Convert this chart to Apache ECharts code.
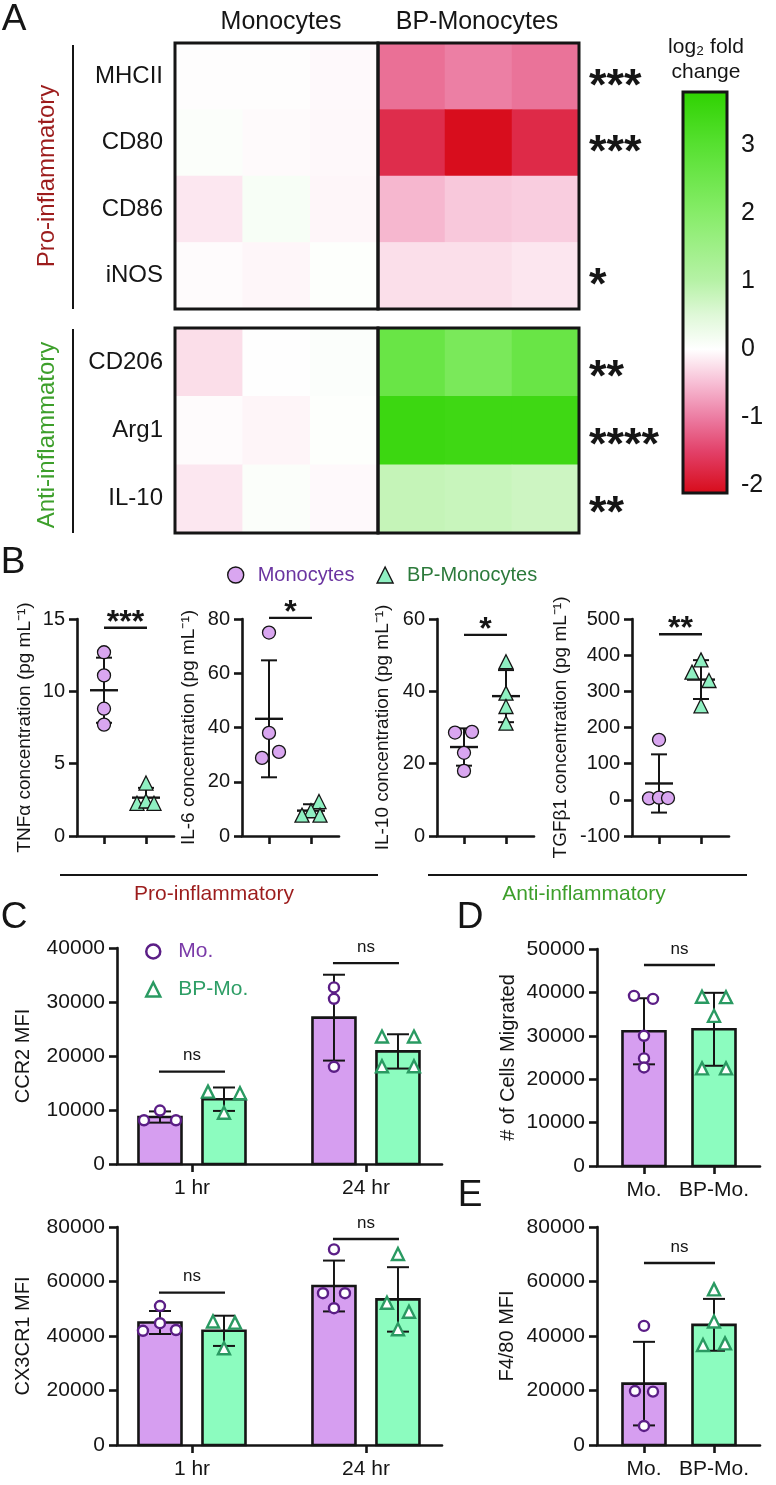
<!DOCTYPE html>
<html><head><meta charset="utf-8">
<script src="https://cdn.jsdelivr.net/npm/echarts@6/dist/echarts.min.js"></script>
<style>html,body{margin:0;padding:0;background:#fff}#c{width:776px;height:1485px}</style>
</head><body><div id="c"></div>
<script>
// ================= DATA =================
// Panel A: log2 fold change heatmap (3 replicates per group)
const replicates = ['1', '2', '3'];
const proMarkers = ['MHCII', 'CD80', 'CD86', 'iNOS'];
const antiMarkers = ['CD206', 'Arg1', 'IL-10'];
const proMono = [[0.00, 0.00, -0.04], [0.07, -0.03, -0.05], [-0.18, 0.12, -0.07], [-0.02, -0.07, 0.04]];
const proBP = [[-1.1, -0.98, -1.08], [-1.72, -2.08, -1.75], [-0.55, -0.42, -0.38], [-0.24, -0.24, -0.19]];
const antiMono = [[-0.25, 0.01, 0.06], [-0.02, -0.08, 0.04], [-0.18, 0.07, -0.04]];
const antiBP = [[2.6, 2.25, 2.6], [3.5, 3.45, 3.45], [0.82, 0.78, 0.72]];
const proSig = ['***', '***', '', '*'];
const antiSig = ['**', '****', '**'];
const cbTicks = [-2, -1, 0, 1, 2, 3];
const cbMin = -2.12, cbMax = 3.78;

// Panel B: cytokine concentrations (pg/mL)
const tnfMono = [12.7, 11.1, 8.8, 7.7];
const tnfBP = [3.66, 2.26, 2.42, 2.26];
const il6Mono = [75, 38, 31, 28.8];
const il6BP = [12.7, 9.3, 7.7, 7.7];
const il10Mono = [28.6, 28.8, 23, 18];
const il10BP = [48.2, 39.5, 35.8, 31.2];
const tgfMono = [166, 4, 6, 5];
const tgfBP = [387, 353, 330, 260];
const cytoSig = ['***', '*', '*', '**'];
const cytoSigLevel = [14.4, 80.4, 55.6, 458];

// Panel C: MFI at 1 hr / 24 hr
const timeCats = ['1 hr', '24 hr'];
const ccr2Mo = [[9900, 8100, 8100], [32700, 30600, 18000]];
const ccr2BP = [[13400, 13100, 9500], [23600, 23600, 18100, 18100]];
const ccr2Sig = ['ns', 'ns'];
const ccr2SigLevel = [17100, 37200];
const cx3Mo = [[51000, 44700, 41900, 42200], [71800, 55700, 55700, 50200]];
const cx3BP = [[45300, 44900, 35500], [70100, 52200, 48900, 42500]];
const cx3Sig = ['ns', 'ns'];
const cx3SigLevel = [55900, 75600];

// Panel D / E
const groupCats = ['Mo.', 'BP-Mo.'];
const migMo = [39200, 38500, 30000, 24800, 22700];
const migBP = [39000, 38900, 34600, 22500, 22500];
const migSig = ['ns'];
const migSigLevel = [46300];
const f480Mo = [43700, 19800, 19600, 7000];
const f480BP = [57100, 45300, 36700, 37300];
const f480Sig = ['ns'];
const f480SigLevel = [66800];

// ================= STYLE =================
const FONT = "'Liberation Sans', Arial, Helvetica, sans-serif";
const INK = '#151515';
const MONO_FILL = '#d9a6f0', BP_FILL = '#8ff0c2';
const MO_BAR = '#d69ef0', BP_BAR = '#8cfcbf';
const MO_LINE = '#5b1e86', BP_LINE = '#2a9a62';
const PRO_COL = '#9c1c1c', ANTI_COL = '#3d9f2b';
// point jitter (pixel offsets, style only)
const jit = {
  tnfMono: [0, 0, 0, 0], tnfBP: [0, -9, 0, 8],
  il6Mono: [0, 0, 10, -7], il6BP: [8, 0, -9, 9],
  il10Mono: [-9, 8, 0, 0], il10BP: [0, 0, 0, 0],
  tgfMono: [0, -10, 0, 9], tgfBP: [0, -9, 8, 0],
  ccr2Mo: [[0, -16, 16], [0, 0, 0]], ccr2BP: [[-16, 16, 0], [-16, 16, -16, 16]],
  cx3Mo: [[0, 0, -17, 16], [0, -11, 11, 0]], cx3BP: [[-11, 11, 0], [0, -11, 11, 0]],
  migMo: [-10, 9, 0, 0, 0], migBP: [-12, 12, 0, -12, 12],
  f480Mo: [0, -9, 9, 0], f480BP: [0, 0, -11, 11]
};
const colorAnchors = [[-2.12, '#d70a18'], [-1.5, '#e24068'], [-1, '#ec7ca2'], [-0.5, '#f7bdd4'], [0, '#ffffff'],
  [0.5, '#dff8d8'], [1, '#b6f2a6'], [2, '#86ec68'], [3, '#56e030'], [3.78, '#2ed200']];

// ================= HELPERS =================
function mean(a) { return a.reduce((s, v) => s + v, 0) / a.length; }
function sd(a) { const m = mean(a); return Math.sqrt(a.reduce((s, v) => s + (v - m) * (v - m), 0) / (a.length - 1)); }
function h2r(h) { return [1, 3, 5].map(i => parseInt(h.substr(i, 2), 16)); }
function r2h(c) { return '#' + c.map(v => Math.round(v).toString(16).padStart(2, '0')).join(''); }
function colorAt(v) {
  for (let i = 0; i < colorAnchors.length - 1; i++) {
    const [v0, c0] = colorAnchors[i], [v1, c1] = colorAnchors[i + 1];
    if (v <= v1 || i === colorAnchors.length - 2) {
      const t = Math.max(0, Math.min(1, (v - v0) / (v1 - v0)));
      const a = h2r(c0), b = h2r(c1);
      return r2h(a.map((x, k) => x + (b[k] - x) * t));
    }
  }
}
const vmColors = [];
for (let i = 0; i <= 80; i++) vmColors.push(colorAt(cbMin + (cbMax - cbMin) * i / 80));
const cbStops = colorAnchors.map(([v, c]) => ({ offset: (v - cbMin) / (cbMax - cbMin), color: c }));

const grid = [], xAxis = [], yAxis = [], series = [];
function addGrid(g) { grid.push(Object.assign({ outerBoundsMode: 'none', containLabel: false }, g)); return grid.length - 1; }
const lineSt = (w) => ({ color: INK, width: w });

// ---- Heatmap grids ----
const hmLayout = [
  { left: 175, top: 43, width: 203, height: 266 },
  { left: 378, top: 43, width: 201, height: 266 },
  { left: 175, top: 328, width: 203, height: 205 },
  { left: 378, top: 328, width: 201, height: 205 }];
const hmSets = [[proMono, proMarkers, null, 0], [proBP, proMarkers, proSig, 11], [antiMono, antiMarkers, null, 0], [antiBP, antiMarkers, antiSig, 16]];
const starSeries = [];
hmSets.forEach(([mat, rows, sig, shift], k) => {
  const gi = addGrid(Object.assign({ show: true, borderColor: INK, borderWidth: 3, z: 6 }, hmLayout[k]));
  xAxis.push({ gridIndex: gi, type: 'category', data: replicates, show: false });
  const ya = { gridIndex: gi, type: 'category', data: rows, inverse: true,
    axisLine: { show: false }, axisTick: { show: false }, splitLine: { show: false } };
  if (sig) {
    ya.axisLabel = { show: false };
    // significance stars, anchored to each row of the heatmap
    starSeries.push({ type: 'custom', xAxisIndex: gi, yAxisIndex: gi, z: 7, clip: false,
      data: rows.map((r, i) => [replicates.length - 1, i]),
      renderItem: function (params, api) {
        const p = api.coord([api.value(0), api.value(1)]);
        const bw = api.size([1, 0])[0];
        return { type: 'text', style: { text: sig[params.dataIndex], x: p[0] + bw / 2 + 10, y: p[1] + shift,
          align: 'left', verticalAlign: 'middle', fontSize: 45, fontWeight: 'bold', fontFamily: FONT, fill: INK } };
      } });
  } else {
    ya.axisLabel = { fontSize: 24, fontFamily: FONT, color: INK, margin: 12 };
  }
  yAxis.push(ya);
  series.push({ type: 'heatmap', xAxisIndex: gi, yAxisIndex: gi, z: 2,
    data: mat.flatMap((row, r) => row.map((v, c) => [c, r, v])), emphasis: { disabled: true } });
});

// ---- Colour bar ----
const cbGi = addGrid({ left: 683, top: 92, width: 44, height: 401, show: true, borderColor: INK, borderWidth: 3,
  backgroundColor: new echarts.graphic.LinearGradient(0, 1, 0, 0, cbStops) });
xAxis.push({ gridIndex: cbGi, type: 'category', data: [''], show: false });
yAxis.push({ gridIndex: cbGi, type: 'value', min: cbMin, max: cbMax, z: 8, axisLine: { show: false },
  axisTick: { inside: true, length: 9, lineStyle: lineSt(3), customValues: cbTicks }, axisLabel: { show: false }, splitLine: { show: false } });

// ---- Panel B (dot plots with mean ± SD) ----
function errRender(off, capHalf, meanHalf, lw) {
  return function (params, api) {
    const x = api.value(0), m = api.value(1), s = api.value(2);
    const t = api.coord([x, m + s]), b = api.coord([x, m - s]), c = api.coord([x, m]);
    const cx = c[0] + off;
    const ch = [
      { type: 'line', shape: { x1: cx, y1: t[1], x2: cx, y2: b[1] }, style: { stroke: INK, lineWidth: lw } },
      { type: 'line', shape: { x1: cx - capHalf, y1: t[1], x2: cx + capHalf, y2: t[1] }, style: { stroke: INK, lineWidth: lw } },
      { type: 'line', shape: { x1: cx - capHalf, y1: b[1], x2: cx + capHalf, y2: b[1] }, style: { stroke: INK, lineWidth: lw } }];
    if (meanHalf) ch.push({ type: 'line', shape: { x1: cx - meanHalf, y1: c[1], x2: cx + meanHalf, y2: c[1] }, style: { stroke: INK, lineWidth: lw + 0.4 } });
    return { type: 'group', children: ch };
  };
}
function sigRender(labels, offs, fnt, gap) {
  return function (params, api) {
    const i = params.dataIndex;
    const p1 = api.coord([api.value(0), api.value(2)]), p2 = api.coord([api.value(1), api.value(2)]);
    const x1 = p1[0] + offs[0], x2 = p2[0] + offs[1], y = p1[1];
    return { type: 'group', children: [
      { type: 'line', shape: { x1: x1, y1: y, x2: x2, y2: y }, style: { stroke: INK, lineWidth: 2.4 } },
      { type: 'text', style: { text: labels[i], x: (x1 + x2) / 2, y: y - gap, align: 'center', verticalAlign: 'middle',
        fontSize: fnt.size, fontWeight: fnt.weight, fontFamily: fnt.family, fill: INK } }] };
  };
}
function valueX(gi, min, max, labels) {
  return { gridIndex: gi, type: 'value', min: min, max: max,
    axisLine: { show: true, onZero: false, lineStyle: lineSt(2.6) },
    axisTick: { show: true, length: 8, lineStyle: lineSt(2.6), customValues: [1, 2].slice(0, labels ? labels.length : 2) },
    axisLabel: labels ? { show: true, customValues: labels.map((l, i) => i + 1), formatter: v => labels[Math.round(v) - 1],
      fontSize: 21, fontFamily: FONT, color: INK, margin: 14 } : { show: false },
    splitLine: { show: false } };
}
function valueY(gi, min, max, interval, name, nameGap, nameSize, labelSize) {
  return { gridIndex: gi, type: 'value', min: min, max: max, interval: interval,
    name: name, nameLocation: 'middle', nameRotate: 90, nameGap: nameGap,
    nameTextStyle: { fontSize: nameSize, fontFamily: FONT, color: INK },
    axisLine: { show: true, lineStyle: lineSt(2.6) },
    axisTick: { show: true, length: 8, lineStyle: lineSt(2.6) },
    axisLabel: { fontSize: labelSize, fontFamily: FONT, color: INK, margin: 12, formatter: v => String(v) },
    splitLine: { show: false } };
}
const bDefs = [
  ['TNFα', tnfMono, tnfBP, jit.tnfMono, jit.tnfBP, 77, 0, 15, 5, 43],
  ['IL-6', il6Mono, il6BP, jit.il6Mono, jit.il6BP, 242, 0, 80, 20, 44],
  ['IL-10', il10Mono, il10BP, jit.il10Mono, jit.il10BP, 437, 0, 60, 20, 45],
  ['TGFβ1', tgfMono, tgfBP, jit.tgfMono, jit.tgfBP, 632, -100, 500, 100, 62]];
bDefs.forEach(([nm, mo, bp, jm, jb, left, mn, mx, iv, gap], k) => {
  const gi = addGrid({ left: left, top: 619, width: 97, height: 217 });
  xAxis.push(valueX(gi, 0.357, 2.667, null));
  yAxis.push(valueY(gi, mn, mx, iv, nm + ' concentration (pg mL⁻¹)', gap, 19, 20));
  series.push({ type: 'custom', xAxisIndex: gi, yAxisIndex: gi, z: 3, clip: false,
    data: [[1, mean(mo), sd(mo)], [2, mean(bp), sd(bp)]], renderItem: errRender(0, 8, 14, 2) });
  series.push({ type: 'scatter', name: 'Monocytes', xAxisIndex: gi, yAxisIndex: gi, z: 4, symbol: 'circle', symbolSize: 13,
    itemStyle: { color: MONO_FILL, borderColor: INK, borderWidth: 1.3, opacity: 1 },
    data: mo.map((v, i) => ({ value: [1, v], symbolOffset: [jm[i], 0] })) });
  series.push({ type: 'scatter', name: 'BP-Monocytes', xAxisIndex: gi, yAxisIndex: gi, z: 4, symbol: 'triangle', symbolSize: 14,
    itemStyle: { color: BP_FILL, borderColor: INK, borderWidth: 1.3, opacity: 1 },
    data: bp.map((v, i) => ({ value: [2, v], symbolOffset: [jb[i], 0] })) });
  series.push({ type: 'custom', xAxisIndex: gi, yAxisIndex: gi, z: 3, clip: false,
    data: [[1, 2, cytoSigLevel[k]]], renderItem: sigRender([cytoSig[k]], [0, 1], { size: 32, weight: 'bold', family: FONT }, 5) });
});

// ---- Panels C, D, E (bars, mean ± SD, points) ----
function barRender(off, w, fill) {
  return function (params, api) {
    const x = api.value(0), v = api.value(1);
    const b = api.coord([x, 0]), t = api.coord([x, v]);
    return { type: 'rect', shape: { x: b[0] + off - w / 2, y: t[1], width: w, height: b[1] - t[1] },
      style: { fill: fill, stroke: INK, lineWidth: 2.6 } };
  };
}
function barGroup(gi, xs, sets, off, fill, name, symbol, jits, lineCol, symSize) {
  series.push({ type: 'custom', xAxisIndex: gi, yAxisIndex: gi, z: 2, clip: false,
    data: xs.map((x, i) => [x, mean(sets[i])]), renderItem: barRender(off, 43, fill) });
  series.push({ type: 'custom', xAxisIndex: gi, yAxisIndex: gi, z: 3, clip: false,
    data: xs.map((x, i) => [x, mean(sets[i]), sd(sets[i])]), renderItem: errRender(off, 11, 0, 2) });
  const pts = [];
  xs.forEach((x, i) => sets[i].forEach((v, j) => pts.push({ value: [x, v], symbolOffset: [off + jits[i][j], 0] })));
  series.push({ type: 'scatter', name: name, xAxisIndex: gi, yAxisIndex: gi, z: 4, symbol: symbol, symbolSize: symSize,
    itemStyle: { color: '#ffffff', borderColor: lineCol, borderWidth: 2.4, opacity: 1 }, data: pts });
}
// C top: CCR2
let gi = addGrid({ left: 117, top: 948, width: 325, height: 216 });
xAxis.push(valueX(gi, 0.569, 2.437, timeCats));
yAxis.push(valueY(gi, 0, 40000, 10000, 'CCR2 MFI', 84, 20, 21));
barGroup(gi, [1, 2], ccr2Mo, -32, MO_BAR, 'Mo.', 'circle', jit.ccr2Mo, MO_LINE, 10);
barGroup(gi, [1, 2], ccr2BP, 32, BP_BAR, 'BP-Mo.', 'triangle', jit.ccr2BP, BP_LINE, 12);
series.push({ type: 'custom', xAxisIndex: gi, yAxisIndex: gi, z: 3, clip: false, data: [[1, 1, ccr2SigLevel[0]], [2, 2, ccr2SigLevel[1]]],
  renderItem: sigRender(ccr2Sig, [-33, 33], { size: 17, weight: 'normal', family: FONT }, 16) });
// C bottom: CX3CR1
gi = addGrid({ left: 117, top: 1227, width: 325, height: 218 });
xAxis.push(valueX(gi, 0.569, 2.437, timeCats));
yAxis.push(valueY(gi, 0, 80000, 20000, 'CX3CR1 MFI', 84, 20, 21));
barGroup(gi, [1, 2], cx3Mo, -32, MO_BAR, 'Mo.', 'circle', jit.cx3Mo, MO_LINE, 10);
barGroup(gi, [1, 2], cx3BP, 32, BP_BAR, 'BP-Mo.', 'triangle', jit.cx3BP, BP_LINE, 12);
series.push({ type: 'custom', xAxisIndex: gi, yAxisIndex: gi, z: 3, clip: false, data: [[1, 1, cx3SigLevel[0]], [2, 2, cx3SigLevel[1]]],
  renderItem: sigRender(cx3Sig, [-33, 33], { size: 17, weight: 'normal', family: FONT }, 16) });
// D: migration
gi = addGrid({ left: 597, top: 949, width: 163, height: 217 });
xAxis.push(valueX(gi, 0.329, 2.657, groupCats));
yAxis.push(valueY(gi, 0, 50000, 10000, '# of Cells Migrated', 79, 20, 21));
barGroup(gi, [1], [migMo], 0, MO_BAR, 'Mo.', 'circle', [jit.migMo], MO_LINE, 10);
barGroup(gi, [2], [migBP], 0, BP_BAR, 'BP-Mo.', 'triangle', [jit.migBP], BP_LINE, 12);
series.push({ type: 'custom', xAxisIndex: gi, yAxisIndex: gi, z: 3, clip: false, data: [[1, 2, migSigLevel[0]]],
  renderItem: sigRender(migSig, [0, 1], { size: 17, weight: 'normal', family: FONT }, 16) });
// E: F4/80
gi = addGrid({ left: 597, top: 1227, width: 163, height: 218 });
xAxis.push(valueX(gi, 0.329, 2.657, groupCats));
yAxis.push(valueY(gi, 0, 80000, 20000, 'F4/80 MFI', 80, 20, 21));
barGroup(gi, [1], [f480Mo], 0, MO_BAR, 'Mo.', 'circle', [jit.f480Mo], MO_LINE, 10);
barGroup(gi, [2], [f480BP], 0, BP_BAR, 'BP-Mo.', 'triangle', [jit.f480BP], BP_LINE, 12);
series.push({ type: 'custom', xAxisIndex: gi, yAxisIndex: gi, z: 3, clip: false, data: [[1, 2, f480SigLevel[0]]],
  renderItem: sigRender(f480Sig, [0, 1], { size: 17, weight: 'normal', family: FONT }, 16) });

// colour-bar right axis with labels
yAxis.push({ gridIndex: cbGi, type: 'value', position: 'right', min: cbMin, max: cbMax, z: 8, axisLine: { show: false },
  axisTick: { inside: true, length: 9, lineStyle: lineSt(3), customValues: cbTicks },
  axisLabel: { customValues: cbTicks, fontSize: 25, fontFamily: FONT, color: INK, margin: 14 }, splitLine: { show: false } });

// star annotations go after all other series (visualMap only covers the heatmaps 0-3)
starSeries.forEach(s => series.push(s));

// ---- Decorative text and group lines ----
function txt(t, x, y, size, color, extra) {
  return Object.assign({ type: 'text', x: x, y: y, silent: true,
    style: { text: t, x: 0, y: 0, align: 'center', verticalAlign: 'middle', fontSize: size, fontFamily: FONT, fill: color || INK } }, extra || {});
}
function ln(x1, y1, x2, y2) { return { type: 'line', silent: true, shape: { x1, y1, x2, y2 }, style: { stroke: INK, lineWidth: 2 } }; }
const graphic = [
  txt('A', 14, 20, 37), txt('B', 13, 563, 37), txt('C', 14, 918, 37), txt('D', 470, 918, 37), txt('E', 470, 1196, 37),
  txt('Monocytes', 281, 22, 25), txt('BP-Monocytes', 477, 22, 25),
  txt('log₂ fold', 706, 47, 21), txt('change', 706, 72, 21),
  txt('Pro-inflammatory', 47, 176, 24, PRO_COL, { rotation: Math.PI / 2 }),
  txt('Anti-inflammatory', 47, 435, 24, ANTI_COL, { rotation: Math.PI / 2 }),
  ln(73, 45, 73, 309), ln(73, 329, 73, 533),
  ln(60, 875, 378, 875), ln(428, 875, 747, 875),
  txt('Pro-inflammatory', 214, 894, 21, PRO_COL), txt('Anti-inflammatory', 584, 894, 21, ANTI_COL)
];

const option = {
  animation: false,
  backgroundColor: '#ffffff',
  textStyle: { fontFamily: FONT },
  grid: grid, xAxis: xAxis, yAxis: yAxis, series: series, graphic: graphic,
  visualMap: { type: 'continuous', show: false, min: cbMin, max: cbMax, dimension: 2, seriesIndex: [0, 1, 2, 3], inRange: { color: vmColors } },
  legend: [{
    left: 227, top: 565, orient: 'horizontal', padding: 0, itemWidth: 16, itemHeight: 16, itemGap: 22, selectedMode: false,
    textStyle: { fontSize: 20, fontFamily: FONT, padding: [0, 0, 0, 9] },
    data: [{ name: 'Monocytes', icon: 'circle', itemStyle: { color: MONO_FILL, borderColor: INK, borderWidth: 1.4 }, textStyle: { color: '#6a34a0' } },
           { name: 'BP-Monocytes', icon: 'triangle', itemStyle: { color: BP_FILL, borderColor: INK, borderWidth: 1.4 }, textStyle: { color: '#2c7a3b' } }]
  }, {
    left: 145, top: 941, orient: 'vertical', padding: 0, itemWidth: 14, itemHeight: 14, itemGap: 17, selectedMode: false,
    textStyle: { fontSize: 21, fontFamily: FONT, padding: [0, 0, 0, 13] },
    data: [{ name: 'Mo.', icon: 'circle', itemStyle: { color: '#ffffff', borderColor: MO_LINE, borderWidth: 2.5 }, textStyle: { color: '#7a3aa8' } },
           { name: 'BP-Mo.', icon: 'triangle', itemStyle: { color: '#ffffff', borderColor: BP_LINE, borderWidth: 2.5 }, textStyle: { color: '#2e9e66' } }]
  }]
};
const chart = echarts.init(document.getElementById('c'), null, { renderer: 'canvas' });
chart.setOption(option);
</script></body></html>
